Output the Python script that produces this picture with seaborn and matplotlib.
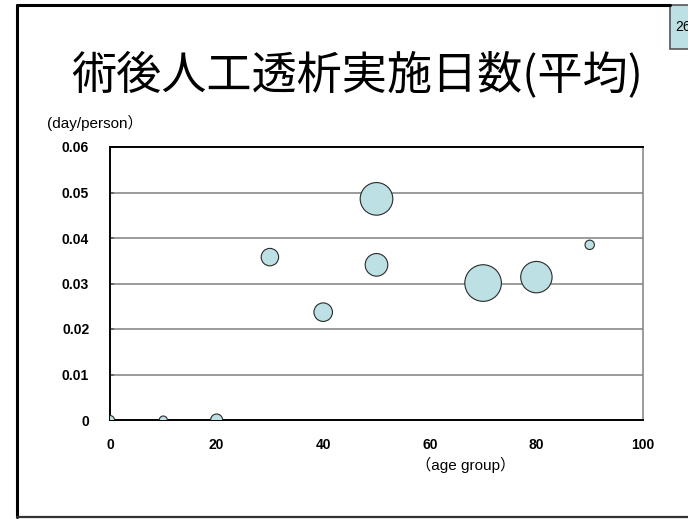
import matplotlib
matplotlib.use("Agg")
import matplotlib.pyplot as plt
from matplotlib.lines import Line2D
from matplotlib.patches import Rectangle
import seaborn as sns
import pandas as pd

# Age group (x), mean post-operative dialysis days per person (y), bubble weight
age_group = [0, 10, 20, 30, 40, 50, 50, 70, 80, 90]
days_per_person = [0.0, 0.0, 0.0, 0.0358, 0.0237, 0.0486, 0.0341, 0.0301, 0.0314, 0.0385]
bubble_size = [20, 16, 36, 76, 86, 266, 128, 335, 246, 22]

x_ticks = [0, 20, 40, 60, 80, 100]
y_ticks = [0, 0.01, 0.02, 0.03, 0.04, 0.05, 0.06]
y_tick_labels = ["0", "0.01", "0.02", "0.03", "0.04", "0.05", "0.06"]

title = "術後人工透析実施日数(平均)"
y_unit = "(day/person）"
x_unit = "（age group）"
page_no = "26"

df = pd.DataFrame({"age": age_group, "days": days_per_person, "w": bubble_size})

sns.set_theme(style="white")
plt.rcParams["font.family"] = ["Liberation Sans", "Noto Sans CJK JP", "DejaVu Sans"]

W, H = 688, 519
fig = plt.figure(figsize=(W / 100, H / 100), dpi=100)
fig.patch.set_facecolor("white")

ax = fig.add_axes([110 / W, 1 - 420 / H, (643 - 110) / W, (420 - 147) / H])

# bubble area in points^2 proportional to weight
k = (2 * 0.72) ** 2
sns.scatterplot(
    data=df, x="age", y="days", size="w",
    sizes=(k * min(bubble_size), k * max(bubble_size)),
    size_norm=(min(bubble_size), max(bubble_size)),
    color="#BCE0E3", edgecolor="#2a2a2a", linewidth=0.8,
    legend=False, ax=ax, zorder=3, clip_on=True,
)

ax.set_xlim(0, 100)
ax.set_ylim(0, 0.06)
ax.set_xticks(x_ticks)
ax.set_xticklabels([str(v) for v in x_ticks])
ax.set_yticks(y_ticks)
ax.set_yticklabels(y_tick_labels)
ax.set_xlabel("")
ax.set_ylabel("")

for v in y_ticks[1:-1]:
    ax.axhline(v, color="#808080", lw=1.1, zorder=1)

for side in ["left", "bottom", "top"]:
    ax.spines[side].set_color("black")
    ax.spines[side].set_linewidth(1.4)
ax.spines["right"].set_color("#808080")
ax.spines["right"].set_linewidth(1.1)

ax.tick_params(axis="both", which="major", direction="in", length=3, width=1.2,
               color="black", labelsize=10)
ax.tick_params(axis="y", pad=15, left=True)
ax.tick_params(axis="x", pad=13, bottom=False)
for lab in ax.get_xticklabels() + ax.get_yticklabels():
    lab.set_fontweight("bold")
    lab.set_color("black")

# title and unit labels
fig.text(357 / W, 1 - 75 / H, title, ha="center", va="center", fontsize=32.5,
         family=["Noto Sans CJK JP", "DejaVu Sans"], color="black")
fig.text(47 / W, 1 - 123 / H, y_unit, ha="left", va="center", fontsize=11, color="black")
fig.text(416 / W, 1 - 465 / H, x_unit, ha="left", va="center", fontsize=11, color="black")

# slide frame
fc = "black"
fig.add_artist(Line2D([17 / W, 17 / W], [1 - 5 / H, 1 - 517 / H], color=fc, lw=2.2,
                      transform=fig.transFigure))
fig.add_artist(Line2D([17 / W, 670 / W], [1 - 5 / H, 1 - 5 / H], color=fc, lw=2.2,
                      transform=fig.transFigure))
fig.add_artist(Line2D([17 / W, 1.0], [1 - 517 / H, 1 - 517 / H], color="#333333", lw=1.6,
                      transform=fig.transFigure))

# page number box
fig.add_artist(Rectangle((670 / W, 1 - 49 / H), 30 / W, 44 / H, transform=fig.transFigure,
                         facecolor="#BCE0E3", edgecolor="#555555", lw=1.2))
fig.text(675 / W, 1 - 27 / H, page_no, ha="left", va="center", fontsize=10, color="black")

fig.savefig("out.png", dpi=100)
